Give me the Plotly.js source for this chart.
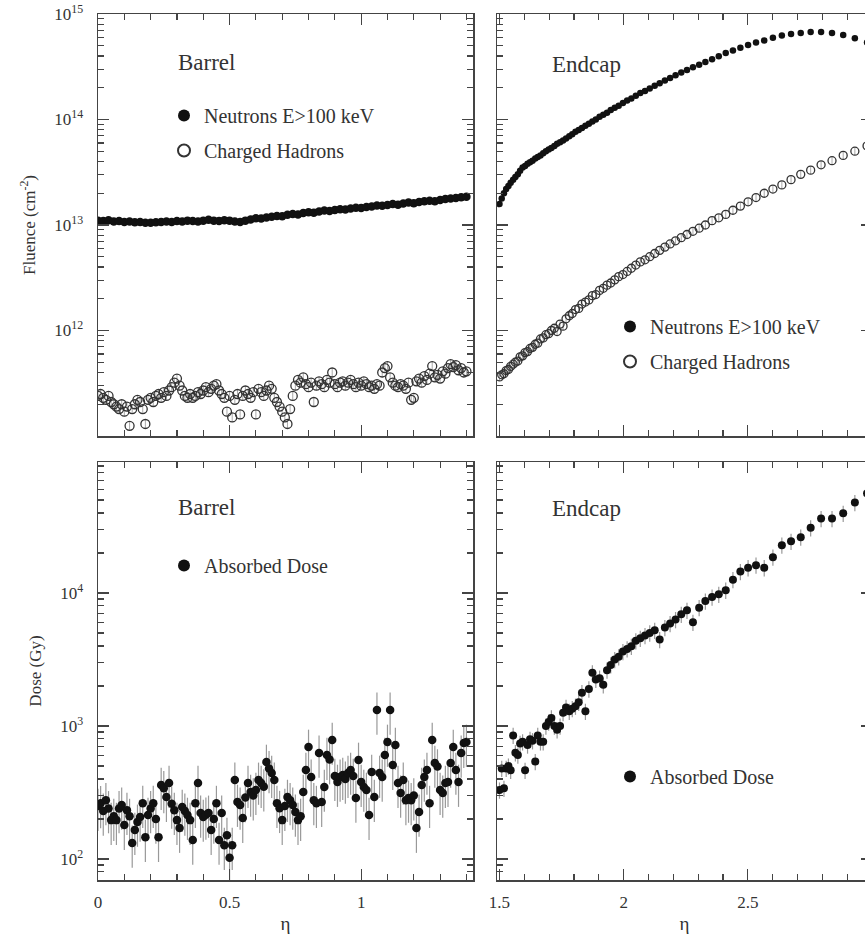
<!DOCTYPE html>
<html><head><meta charset="utf-8">
<script src="https://cdn.plot.ly/plotly-3.0.1.min.js"></script>
<style>html,body{margin:0;padding:0;overflow:hidden;background:#fff;width:865px;height:936px}</style>
</head><body><div id="chart" style="width:872px;height:936px"></div>
<script>
// ---------- DATA ----------
// Barrel eta grid (coarse, used for neutrons)
const etaBarrelCoarse = [0.00,0.02,0.04,0.06,0.08,0.10,0.12,0.14,0.16,0.18,0.20,0.22,0.24,0.26,0.28,0.30,0.32,0.34,0.36,0.38,0.40,0.42,0.44,0.46,0.48,0.50,0.52,0.54,0.56,0.58,0.60,0.62,0.64,0.66,0.68,0.70,0.72,0.74,0.76,0.78,0.80,0.82,0.84,0.86,0.88,0.90,0.92,0.94,0.96,0.98,1.00,1.02,1.04,1.06,1.08,1.10,1.12,1.14,1.16,1.18,1.20,1.22,1.24,1.26,1.28,1.30,1.32,1.34,1.36,1.38,1.40];
// Barrel neutron fluence (x 1e13 cm^-2)
const neutronBarrel = [1.10,1.09,1.11,1.08,1.09,1.07,1.08,1.06,1.07,1.05,1.05,1.06,1.07,1.08,1.07,1.09,1.08,1.10,1.09,1.08,1.10,1.12,1.10,1.09,1.11,1.10,1.08,1.07,1.10,1.13,1.16,1.15,1.18,1.20,1.22,1.21,1.25,1.27,1.26,1.30,1.32,1.31,1.34,1.37,1.36,1.39,1.41,1.40,1.43,1.46,1.45,1.48,1.50,1.53,1.52,1.55,1.58,1.56,1.60,1.63,1.61,1.65,1.68,1.70,1.68,1.73,1.76,1.78,1.80,1.83,1.85];
// Barrel eta grid (fine, used for hadrons and dose)
const etaBarrelFine = [0.00,0.01,0.02,0.03,0.04,0.05,0.06,0.07,0.08,0.09,0.10,0.11,0.12,0.13,0.14,0.15,0.16,0.17,0.18,0.19,0.20,0.21,0.22,0.23,0.24,0.25,0.26,0.27,0.28,0.29,0.30,0.31,0.32,0.33,0.34,0.35,0.36,0.37,0.38,0.39,0.40,0.41,0.42,0.43,0.44,0.45,0.46,0.47,0.48,0.49,0.50,0.51,0.52,0.53,0.54,0.55,0.56,0.57,0.58,0.59,0.60,0.61,0.62,0.63,0.64,0.65,0.66,0.67,0.68,0.69,0.70,0.71,0.72,0.73,0.74,0.75,0.76,0.77,0.78,0.79,0.80,0.81,0.82,0.83,0.84,0.85,0.86,0.87,0.88,0.89,0.90,0.91,0.92,0.93,0.94,0.95,0.96,0.97,0.98,0.99,1.00,1.01,1.02,1.03,1.04,1.05,1.06,1.07,1.08,1.09,1.10,1.11,1.12,1.13,1.14,1.15,1.16,1.17,1.18,1.19,1.20,1.21,1.22,1.23,1.24,1.25,1.26,1.27,1.28,1.29,1.30,1.31,1.32,1.33,1.34,1.35,1.36,1.37,1.38,1.39,1.40];
// Barrel charged hadron fluence (x 1e11 cm^-2)
const hadronBarrel = [2.4,2.5,2.3,2.2,2.4,2.1,2.0,1.9,1.8,2.0, 1.7,1.9,1.25,1.8,2.0,2.2,2.1,1.8,1.3,2.2, 2.3,2.1,2.4,2.5,2.3,2.6,2.4,2.7,2.9,3.2, 3.5,3.0,2.7,2.4,2.3,2.5,2.3,2.4,2.6,2.5, 2.7,2.9,2.6,2.8,3.0,3.1,2.7,2.5,2.3,1.7, 2.4,1.5,2.2,2.5,1.6,2.4,2.7,2.5,2.3,2.6, 1.6,2.8,2.6,2.4,2.7,3.0,2.8,2.3,2.1,1.9, 1.7,1.5,1.3,1.8,2.4,3.0,3.4,3.2,3.6,3.1, 2.9,3.2,2.1,3.0,3.3,3.1,2.9,3.4,3.2,4.0, 3.1,2.9,3.2,3.3,3.0,3.2,3.4,3.1,2.9,3.2, 3.0,3.3,3.1,2.9,3.0,2.8,3.1,3.0,4.0,4.4, 4.6,3.6,3.2,3.0,2.9,3.1,3.0,2.8,3.2,2.2, 2.3,3.3,3.5,3.2,3.7,3.4,3.9,4.6,3.6,3.8, 3.5,4.1,3.9,4.4,4.8,4.5,4.7,4.2,4.4,4.0, 4.1];
// Barrel absorbed dose (Gy)
const doseBarrel = [250,262,230,276,240,196,210,196,240,255, 180,233,210,132,165,190,207,263,146,214, 240,263,200,146,360,340,292,372,260,233, 196,171,246,230,214,196,139,263,372,222, 207,215,222,165,200,263,139,222,127,151, 102,127,393,268,255,203,290,372,319,300, 330,393,372,350,536,480,443,393,263,241, 196,250,292,276,255,226,196,210,319,467, 695,414,276,263,627,268,348,605,560,785, 420,379,414,428,400,443,467,420,288,555, 379,348,330,214,451,292,1320,443,414,605, 758,1320,509,720,372,314,393,276,288,276, 300,171,226,360,414,467,263,785,527,495, 330,314,372,379,527,695,467,379,627,745, 758];
// Endcap eta grid
const etaEndcap = [1.500,1.509,1.518,1.527,1.536,1.545,1.555,1.564,1.574,1.583, 1.593,1.603,1.613,1.623,1.633,1.644,1.654,1.665,1.676,1.687, 1.698,1.709,1.721,1.732,1.744,1.756,1.768,1.781,1.793,1.806, 1.819,1.832,1.846,1.860,1.874,1.888,1.903,1.918,1.933,1.948, 1.964,1.980,1.997,2.014,2.031,2.049,2.067,2.086,2.105,2.125, 2.145,2.166,2.187,2.209,2.232,2.255,2.279,2.304,2.329,2.356, 2.383,2.411,2.440,2.470,2.501,2.533,2.566,2.601,2.637,2.674, 2.713,2.753,2.795,2.839,2.884,2.931,2.980];
// Endcap neutron fluence (x 1e13 cm^-2)
const neutronEndcap = [1.58,1.78,2.00,2.19,2.34,2.51,2.69,2.85,3.02,3.27, 3.51,3.63,3.80,3.94,4.07,4.27,4.42,4.57,4.79,5.01, 5.19,5.37,5.62,5.89,6.10,6.31,6.61,6.92,7.24,7.67, 7.94,8.32,8.71,9.12,9.55,10.0,10.6,11.1,11.6,12.3, 12.9,13.5,14.3,15.1,15.8,16.8,17.8,18.6,19.7,20.9, 22.1,23.4,24.8,26.3,27.9,29.5,31.3,33.1,35.1,37.2, 39.8,42.7,45.2,47.9,50.7,53.7,56.2,59.6,62.4,64.6, 66.1,67.6,67.6,66.1,63.1,58.9,53.7];
// Endcap charged hadron fluence (x 1e12 cm^-2)
const hadronEndcap = [0.363,0.380,0.389,0.417,0.427,0.457,0.479,0.501,0.513,0.562, 0.575,0.617,0.631,0.676,0.692,0.741,0.759,0.832,0.851,0.912, 0.933,1.00,1.05,0.977,1.15,1.10,1.29,1.38,1.45,1.58, 1.62,1.78,1.86,1.95,2.14,2.19,2.40,2.51,2.69,2.82, 3.02,3.24,3.39,3.63,3.89,4.17,4.47,4.68,5.01,5.37, 5.75,6.17,6.61,7.08,7.59,8.13,8.71,9.33,10.0,11.0, 11.7,12.6,13.8,15.1,16.6,18.2,20.0,21.9,24.0,26.9, 30.2,33.1,37.2,40.7,45.7,50.1,56.2];
// Endcap absorbed dose (Gy)
const doseEndcap = [330,480,340,480,500,465,850,630,605,740, 760,465,720,795,775,540,850,760,760,1000, 1070,1150,1000,935,1000,1260,1380,1290,1350,1410, 1510,1780,1290,1900,2510,2240,2290,2040,2630,2880, 3160,3310,3630,3800,3980,4370,4570,4790,5010,5250, 4470,5500,5890,6310,6920,7410,6030,7760,8710,9330, 9770,10500,12600,14500,15500,16200,15500,18600,22900,24500, 26300,30900,36300,36300,39800,47900,56200];

// tick labels
const fluenceTickVals = [1e11,1e12,1e13,1e14,1e15];
const fluenceTickText = ['', '10<sup>12</sup>', '10<sup>13</sup>', '10<sup>14</sup>', '10<sup>15</sup>'];
const doseTickVals = [100,1000,10000];
const doseTickText = ['10<sup>2</sup>', '10<sup>3</sup>', '10<sup>4</sup>'];

// ---------- BUILD ----------
const W = 872, H = 936;
const px = v => v / W;
const py = v => 1 - v / H;
const scale = (arr, f) => arr.map(v => v * f);

function minorLog(lo, hi) { // minor tick positions 2..9 x 10^d
  const out = [];
  for (let d = lo; d <= hi; d++) for (let k = 2; k <= 9; k++) out.push(k * Math.pow(10, d));
  return out;
}

const FONT = '"Liberation Serif", "Times New Roman", serif';
const INK = '#333';
const base = {
  showline: true, linecolor: '#444', linewidth: 1.5, mirror: 'ticks',
  ticks: 'inside', ticklen: 11, tickwidth: 1.3, tickcolor: '#444',
  showgrid: false, zeroline: false,
  tickfont: {family: FONT, size: 17, color: INK}
};
const xBarrel = Object.assign({}, base, {range: [0, 1.425], tickmode: 'linear', tick0: 0, dtick: 0.5,
  minor: {ticks: 'inside', tick0: 0, dtick: 0.1, ticklen: 6, tickwidth: 1.2, tickcolor: '#444'}, ticklabelstandoff: 6});
const xEndcap = Object.assign({}, base, {range: [1.49, 3.0], tickmode: 'linear', tick0: 1.5, dtick: 0.5,
  minor: {ticks: 'inside', tick0: 1.5, dtick: 0.1, ticklen: 6, tickwidth: 1.2, tickcolor: '#444'}, ticklabelstandoff: 6});
const yFluence = Object.assign({}, base, {type: 'log', range: [11, 15], tickmode: 'array',
  tickvals: fluenceTickVals, ticktext: fluenceTickText, ticklabelstandoff: 10,
  minor: {ticks: 'inside', tickvals: minorLog(11, 14), ticklen: 6, tickwidth: 1.2, tickcolor: '#444'}});
const yDose = Object.assign({}, base, {type: 'log', range: [1.842, 4.985], tickmode: 'array',
  tickvals: doseTickVals, ticktext: doseTickText, ticklabelstandoff: 10,
  minor: {ticks: 'inside', tickvals: minorLog(1, 4), ticklen: 6, tickwidth: 1.2, tickcolor: '#444'}});

const layout = {
  width: W, height: H, margin: {l: 0, r: 0, t: 0, b: 0},
  paper_bgcolor: '#fff', plot_bgcolor: '#fff',
  font: {family: FONT, color: INK},
  xaxis: Object.assign({}, xBarrel, {domain: [px(98), px(473)], anchor: 'y', showticklabels: false}),
  yaxis: Object.assign({}, yFluence, {domain: [py(436), py(14)], anchor: 'x',
    title: {text: 'Fluence (cm<sup>-2</sup>)', font: {family: FONT, size: 17, color: INK}, standoff: 14}}),
  xaxis2: Object.assign({}, xEndcap, {domain: [px(497), 1], anchor: 'y2', showticklabels: false}),
  yaxis2: Object.assign({}, yFluence, {domain: [py(436), py(14)], anchor: 'x2', showticklabels: false}),
  xaxis3: Object.assign({}, xBarrel, {domain: [px(98), px(473)], anchor: 'y3',
    title: {text: 'η', font: {family: FONT, size: 19, color: INK}, standoff: 6}}),
  yaxis3: Object.assign({}, yDose, {domain: [py(880), py(462)], anchor: 'x3',
    title: {text: 'Dose (Gy)', font: {family: FONT, size: 17, color: INK}, standoff: 14}}),
  xaxis4: Object.assign({}, xEndcap, {domain: [px(497), 1], anchor: 'y4',
    title: {text: 'η', font: {family: FONT, size: 19, color: INK}, standoff: 6}}),
  yaxis4: Object.assign({}, yDose, {domain: [py(880), py(462)], anchor: 'x4', showticklabels: false}),
  showlegend: true,
  annotations: [
    {text: 'Barrel', xref: 'paper', yref: 'paper', x: px(176), y: py(63), xanchor: 'left', yanchor: 'middle', showarrow: false, font: {family: FONT, size: 23, color: INK}},
    {text: 'Endcap', xref: 'paper', yref: 'paper', x: px(550), y: py(65), xanchor: 'left', yanchor: 'middle', showarrow: false, font: {family: FONT, size: 23, color: INK}},
    {text: 'Barrel', xref: 'paper', yref: 'paper', x: px(176), y: py(508), xanchor: 'left', yanchor: 'middle', showarrow: false, font: {family: FONT, size: 23, color: INK}},
    {text: 'Endcap', xref: 'paper', yref: 'paper', x: px(550), y: py(509), xanchor: 'left', yanchor: 'middle', showarrow: false, font: {family: FONT, size: 23, color: INK}}
  ]
};
const legendBase = {font: {family: FONT, size: 20, color: INK}, bgcolor: 'rgba(0,0,0,0)', itemsizing: 'constant',
  traceorder: 'grouped', tracegroupgap: 6, xanchor: 'left', yanchor: 'top', itemclick: false};
layout.legend = Object.assign({}, legendBase, {x: px(164), y: py(96)});
layout.legend2 = Object.assign({}, legendBase, {x: px(610), y: py(307)});
layout.legend3 = Object.assign({}, legendBase, {x: px(164), y: py(546)});
layout.legend4 = Object.assign({}, legendBase, {x: px(610), y: py(757)});

const filled = size => ({symbol: 'circle', size: size, color: '#111'});
const openM = size => ({symbol: 'circle-open', size: size, color: '#333', line: {width: 1.3, color: '#333'}});

const traces = [
  {x: etaBarrelFine, y: scale(hadronBarrel, 1e11), xaxis: 'x', yaxis: 'y', mode: 'markers', name: 'Charged Hadrons',
   marker: openM(9), error_y: {type: 'percent', value: 10, color: '#aaa', thickness: 1, width: 0},
   legend: 'legend', legendgroup: 'b', legendrank: 2},
  {x: etaBarrelCoarse, y: scale(neutronBarrel, 1e13), xaxis: 'x', yaxis: 'y', mode: 'markers', name: 'Neutrons E>100 keV',
   marker: filled(8.5), legend: 'legend', legendgroup: 'a', legendrank: 1},
  {x: etaEndcap, y: scale(neutronEndcap, 1e13), xaxis: 'x2', yaxis: 'y2', mode: 'markers', name: 'Neutrons E>100 keV',
   marker: filled(6.5), legend: 'legend2', legendgroup: 'c', legendrank: 1},
  {x: etaEndcap, y: scale(hadronEndcap, 1e12), xaxis: 'x2', yaxis: 'y2', mode: 'markers', name: 'Charged Hadrons',
   marker: openM(8), error_y: {type: 'percent', value: 8, color: '#aaa', thickness: 1, width: 0},
   legend: 'legend2', legendgroup: 'd', legendrank: 2},
  {x: etaBarrelFine, y: doseBarrel, xaxis: 'x3', yaxis: 'y3', mode: 'markers', name: 'Absorbed Dose',
   marker: filled(8.5), error_y: {type: 'percent', value: 35, color: '#999', thickness: 1.2, width: 0},
   legend: 'legend3'},
  {x: etaEndcap, y: doseEndcap, xaxis: 'x4', yaxis: 'y4', mode: 'markers', name: 'Absorbed Dose',
   marker: filled(8), error_y: {type: 'percent', value: 14, color: '#999', thickness: 1.2, width: 0},
   legend: 'legend4'}
];

Plotly.newPlot('chart', traces, layout, {staticPlot: true, displayModeBar: false});
</script></body></html>
